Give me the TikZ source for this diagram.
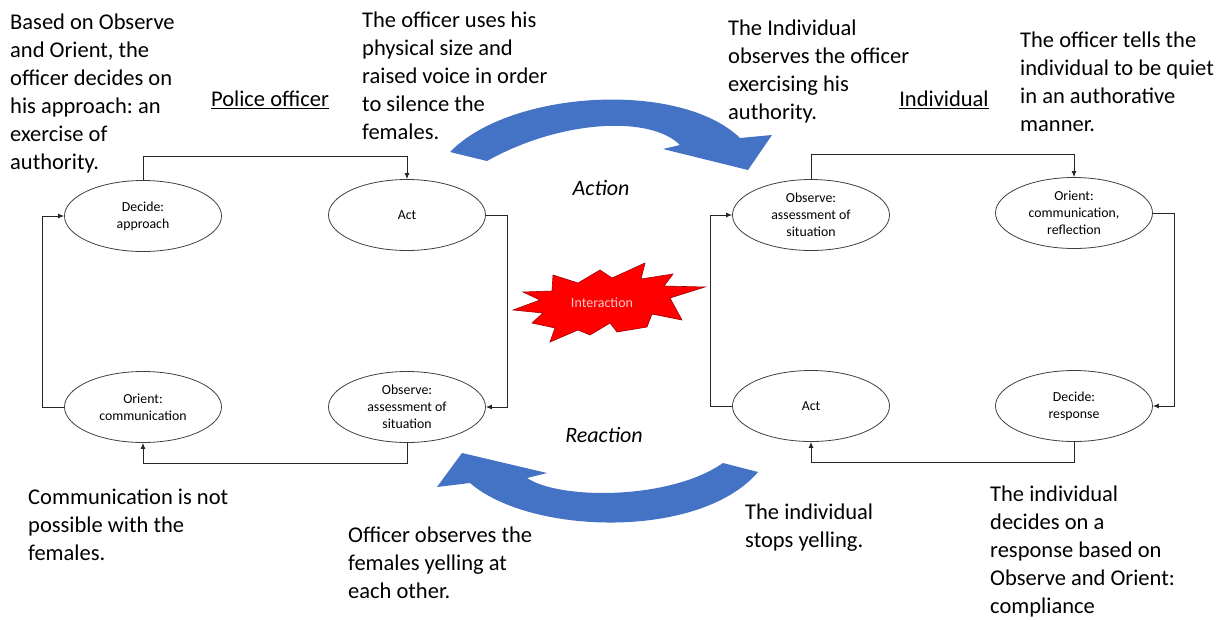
\documentclass[tikz,border=0pt]{standalone}
\usepackage{fontspec}
\setmainfont{Carlito}
\frenchspacing
\usetikzlibrary{arrows.meta,shapes.geometric}
\definecolor{arrowblue}{HTML}{4472C4}
\definecolor{starred}{HTML}{FF0000}
\definecolor{staredge}{HTML}{A00000}
\definecolor{starText}{RGB}{250,200,200}
\begin{document}
\frenchspacing
\begin{tikzpicture}[x=1pt,y=-1pt,
  oval/.style={ellipse, draw=black!75, line width=0.8pt, minimum width=157pt, minimum height=71pt, inner sep=0pt, align=center, font=\fontsize{13.8}{17}\selectfont},
  conn/.style={draw=black!85, line width=0.9pt, -{Latex[length=6pt,width=5pt]}},
  note/.style={anchor=north west, align=left, inner sep=0pt, font=\fontsize{22.5}{28}\selectfont},
  title/.style={inner sep=0pt, font=\fontsize{22.5}{28}\selectfont},
  phase/.style={inner sep=0pt, font=\fontsize{22}{26}\selectfont\itshape},
  bigarrow/.style={fill=arrowblue},
]
\fill[white] (0,0) rectangle (1221,619);
\useasboundingbox (0,0) rectangle (1221,619);

% Police officer loop
\node[oval] (pDecide) at (143,216) {Decide:\\approach};
\node[oval] (pAct) at (407,215) {Act};
\node[oval] (pOrient) at (143,407) {Orient:\\communication};
\node[oval] (pObserve) at (407,407) {Observe:\\assessment of\\situation};

\draw[conn] (pDecide.north) -- ++(0,-24) -| (pAct.north);
\draw[conn] (pAct.east) -- ++(22,0) |- (pObserve.east);
\draw[conn] (pObserve.south) -- ++(0,21) -| (pOrient.south);
\draw[conn] (pOrient.west) -- ++(-22,0) |- (pDecide.west);

% Individual loop
\node[oval] (iObserve) at (811,215) {Observe:\\assessment of\\situation};
\node[oval] (iOrient) at (1074,213) {Orient:\\communication,\\reflection};
\node[oval] (iAct) at (811,406) {Act};
\node[oval] (iDecide) at (1074,406) {Decide:\\response};

\draw[conn] (iObserve.north) -- ++(0,-25) -| (iOrient.north);
\draw[conn] (iOrient.east) -- ++(22,0) |- (iDecide.east);
\draw[conn] (iDecide.south) -- ++(0,21) -| (iAct.south);
\draw[conn] (iAct.west) -- ++(-22,0) |- (iObserve.west);

% Big arrows
\fill[bigarrow] (450,152) .. controls (510,90) and (680,80) .. (740,138)
  -- (772,135) -- (748,170) -- (663,149) -- (680,145)
  .. controls (650,115) and (560,120) .. (487,161) -- cycle;
\fill[bigarrow] (462,453) -- (547,473) -- (527,478)
  .. controls (560,500) and (670,500) .. (723,463) -- (758,472)
  .. controls (700,540) and (530,535) .. (470,483) -- (437,487) -- cycle;

% Interaction star
\filldraw[fill=starred, draw=staredge, line width=0.6pt]
  (513,310) -- (540,300) -- (523,292) -- (552,291) -- (553,275) -- (578,283)
  -- (600,270) -- (612,278) -- (645,263) -- (641,279) -- (673,274) -- (664,286)
  -- (705,287) -- (670,298) -- (682,320) -- (652,314) -- (647,327) -- (617,332)
  -- (610,323) -- (590,335) -- (578,330) -- (550,342) -- (555,328) -- (532,323)
  -- (543,313) -- cycle;
\node[inner sep=0pt, text=starText, font=\fontsize{14}{16}\selectfont] (inter) at (602,303) {Interaction};

\node[phase] (action) at (601,188) {Action};
\node[phase] (reaction) at (604,435) {Reaction};

\node[title] (police) at (270,100) {\underline{Police officer}};
\node[title] (indiv) at (944,100) {\underline{Individual}};

% Notes
\node[note] (n1) at (10,13) {\rule{0pt}{16pt}Based on Observe\\and Orient, the\\officer decides on\\his approach: an\\exercise of\\authority.};
\node[note] (n2) at (362,11) {\rule{0pt}{16pt}The officer uses his\\physical size and\\raised voice in order\\to silence the\\females.};
\node[note] (n3) at (728,19) {\rule{0pt}{16pt}The Individual\\observes the officer\\exercising his\\authority.};
\node[note] (n4) at (1020,31) {\rule{0pt}{16pt}The officer tells the\\individual to be quiet\\in an authorative\\manner.};
\node[note] (n5) at (28,488) {\rule{0pt}{16pt}Communication is not\\possible with the\\females.};
\node[note] (n6) at (348,526) {\rule{0pt}{16pt}Officer observes the\\females yelling at\\each other.};
\node[note] (n7) at (745,503) {\rule{0pt}{16pt}The individual\\stops yelling.};
\node[note] (n8) at (990,485) {\rule{0pt}{16pt}The individual\\decides on a\\response based on\\Observe and Orient:\\compliance};
\end{tikzpicture}
\end{document}
